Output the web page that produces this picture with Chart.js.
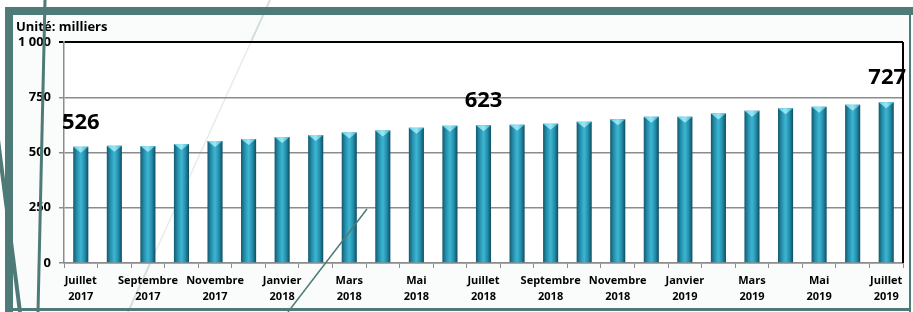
<!DOCTYPE html>
<html><head><meta charset="utf-8">
<script src="https://cdn.jsdelivr.net/npm/chart.js@4/dist/chart.umd.min.js"></script>
<style>html,body{margin:0;padding:0;background:#fff;}#w{width:913px;height:312px;position:relative;}</style>
</head><body><div id="w"><canvas id="c" width="913" height="312"></canvas></div>
<script>
const categories = [
  ["Juillet","2017"],"Août 2017",["Septembre","2017"],"Octobre 2017",["Novembre","2017"],"Décembre 2017",
  ["Janvier","2018"],"Février 2018",["Mars","2018"],"Avril 2018",["Mai","2018"],"Juin 2018",
  ["Juillet","2018"],"Août 2018",["Septembre","2018"],"Octobre 2018",["Novembre","2018"],"Décembre 2018",
  ["Janvier","2019"],"Février 2019",["Mars","2019"],"Avril 2019",["Mai","2019"],"Juin 2019",["Juillet","2019"]
];
const values = [526,531,529,538,552,561,570,579,591,599,612,621,623,626,630,639,650,662,662,676,689,700,707,716,727];
const labelledIndices = [0,12,24];
const yTicks = [0,250,500,750,1000];
const unitTitle = "Unité: milliers";

const TEAL = "#4E7A77";
const FONT = "'Open Sans', Lato, sans-serif";

const deco = {
  id:'deco',
  beforeDraw(chart){
    const c = chart.ctx;
    c.save();
    c.fillStyle = "#ffffff"; c.fillRect(0,0,913,312);
    c.fillStyle = "#FAFBFB"; c.fillRect(13,14,896,296);
    c.strokeStyle = "#D3DFDD"; c.lineWidth = 2;
    c.beginPath(); c.moveTo(270,0); c.lineTo(128,312); c.stroke();
    c.fillStyle = TEAL;
    c.fillRect(5,7,908,8);
    c.fillRect(5,7,8,305);
    c.fillRect(909,14,2,298);
    c.fillRect(13,308,898,3);
    const a = chart.chartArea;
    c.fillStyle = "#ffffff"; c.fillRect(a.left,a.top,a.right-a.left,a.bottom-a.top);
    c.strokeStyle = "#E6ECEB"; c.lineWidth = 1.5;
    c.beginPath(); c.moveTo(270-(a.top)*142/312,a.top); c.lineTo(270-(a.bottom)*142/312,a.bottom); c.stroke();
    c.fillStyle = "#000"; c.font = "bold 13px " + FONT; c.textBaseline = "middle"; c.textAlign = "left";
    c.fillText(unitTitle, 16, 27);
    c.restore();
  },
  afterDatasetsDraw(chart){
    const c = chart.ctx;
    const meta = chart.getDatasetMeta(0);
    c.save();
    meta.data.forEach((bar)=>{
      const w = bar.width, x0 = bar.x - w/2;
      const g = c.createLinearGradient(x0,0,x0+w,0);
      g.addColorStop(0,"#5FD0E6"); g.addColorStop(0.5,"#9BE6F4"); g.addColorStop(1,"#3AAFCB");
      c.fillStyle = g;
      c.beginPath(); c.moveTo(x0,bar.y); c.lineTo(x0+w,bar.y); c.lineTo(bar.x,bar.y+6); c.closePath(); c.fill();
    });
    c.fillStyle = "#000"; c.font = "bold 22px " + FONT; c.textAlign = "center"; c.textBaseline = "alphabetic";
    labelledIndices.forEach(i=>{
      const bar = meta.data[i];
      c.fillText(String(values[i]), bar.x + (i===24?1:0), bar.y - 18);
    });
    c.restore();
  },
  afterDraw(chart){
    const c = chart.ctx;
    c.save();
    c.strokeStyle = TEAL;
    c.lineWidth = 3;
    c.beginPath(); c.moveTo(45,0); c.lineTo(38,312); c.stroke();
    c.lineWidth = 4;
    c.beginPath(); c.moveTo(-2,140); c.lineTo(20,312); c.stroke();
    c.lineWidth = 1.5;
    c.beginPath(); c.moveTo(367,209); c.lineTo(288,312); c.stroke();
    c.restore();
  }
};

function barFill(ctx){
  const chart = ctx.chart;
  const xs = chart.scales && chart.scales.x;
  if (!xs || ctx.dataIndex === undefined) return "#2A9EBC";
  const cx = xs.getPixelForValue(ctx.dataIndex);
  if (!isFinite(cx)) return "#2A9EBC";
  const w = 15;
  const g = chart.ctx.createLinearGradient(cx - w/2, 0, cx + w/2, 0);
  g.addColorStop(0, "#125A70");
  g.addColorStop(0.25, "#2691AE");
  g.addColorStop(0.5, "#3CB6D2");
  g.addColorStop(0.75, "#2590AD");
  g.addColorStop(1, "#0F4E62");
  return g;
}

new Chart(document.getElementById('c'), {
  type:'bar',
  data:{ labels: categories, datasets:[{ data: values, backgroundColor: barFill, borderWidth:0, barPercentage:0.45, categoryPercentage:1 }] },
  options:{
    responsive:false, animation:false,
    layout:{ padding:{ left:0, right:10, top:42, bottom:5 } },
    plugins:{ legend:{display:false}, tooltip:{enabled:false} },
    scales:{
      x:{
        offset:true,
        grid:{ offset:true, drawOnChartArea:false, drawTicks:true, tickLength:5, color:"#8C8C8C", lineWidth:1 },
        border:{ color:"#8C8C8C", width:1.5 },
        ticks:{ autoSkip:false, maxRotation:0, minRotation:0, color:"#000", padding:5,
          font:{ family:FONT, weight:'bold', size:11, lineHeight:1.45 },
          callback:(v,i)=> i%2===0 ? categories[i] : '' },
        afterFit:(s)=>{ s.height = 44; }
      },
      y:{
        min:0, max:1000,
        afterBuildTicks:(s)=>{ s.ticks = yTicks.map(v=>({value:v})); },
        grid:{ color:(c)=> c.tick && c.tick.value===1000 ? "#000" : "#8C8C8C", lineWidth:(c)=> c.tick && c.tick.value===1000 ? 2 : 1.5, drawTicks:true, tickLength:5 },
        border:{ color:"#8C8C8C", width:1.5 },
        ticks:{ color:"#000", padding:8, font:{ family:FONT, weight:'bold', size:13 },
          callback:(v)=> v===1000 ? "1 000" : String(v) },
        afterFit:(s)=>{ s.width = 64; }
      }
    }
  },
  plugins:[deco, {
    id:'rightBorder',
    afterDraw(chart){
      const a = chart.chartArea, c = chart.ctx;
      c.save(); c.strokeStyle="#000"; c.lineWidth=2;
      c.beginPath(); c.moveTo(a.right, a.top); c.lineTo(a.right, a.bottom); c.stroke(); c.restore();
    }
  }]
});
</script></body></html>
